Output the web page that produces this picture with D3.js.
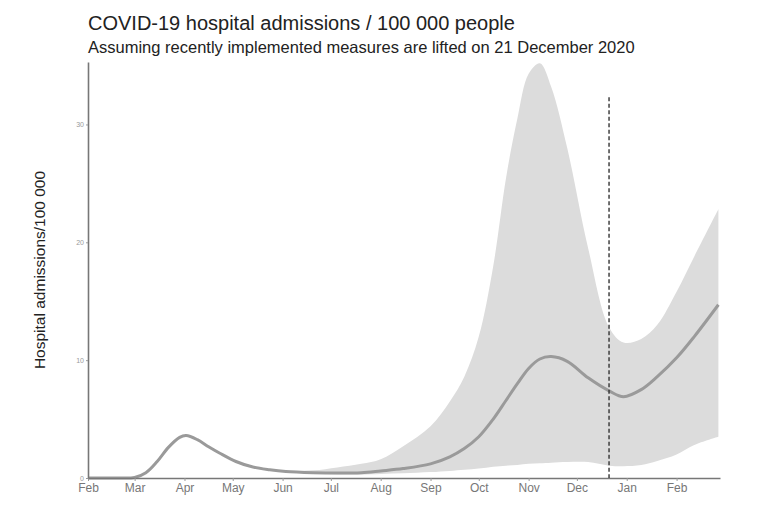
<!DOCTYPE html>
<html>
<head>
<meta charset="utf-8">
<script src="https://cdn.jsdelivr.net/npm/d3@7"></script>
<style>
  body { margin: 0; background: #fff; }
  text { font-family: "Liberation Sans", Arial, sans-serif; }
</style>
</head>
<body>
<div id="chart-area"></div>
<script>
// data
var dates = ['2020-02-01', '2020-02-20', '2020-03-01', '2020-03-08', '2020-03-15', '2020-03-22',
  '2020-03-29', '2020-04-02', '2020-04-09', '2020-04-16', '2020-04-23', '2020-05-03', '2020-05-13',
  '2020-05-24', '2020-06-03', '2020-06-20', '2020-07-05', '2020-07-20', '2020-08-01', '2020-08-15',
  '2020-09-01', '2020-09-13', '2020-09-22', '2020-10-01', '2020-10-10', '2020-10-18', '2020-10-25',
  '2020-11-01', '2020-11-08', '2020-11-15', '2020-11-25', '2020-12-08', '2020-12-21', '2020-12-30',
  '2021-01-10', '2021-01-20', '2021-02-01', '2021-02-12', '2021-02-27'];
var median = [0, 0, 0.05, 0.45, 1.4, 2.6, 3.45, 3.6, 3.25, 2.65, 2.1, 1.4, 0.95, 0.7, 0.55, 0.45, 0.42,
  0.45, 0.6, 0.8, 1.2, 1.8, 2.5, 3.5, 5.0, 6.6, 8.0, 9.3, 10.1, 10.3, 9.9, 8.5, 7.4, 6.9, 7.5, 8.6,
  10.2, 12.0, 14.7];
var lower = [0, 0, 0.05, 0.45, 1.4, 2.6, 3.45, 3.6, 3.25, 2.65, 2.1, 1.4, 0.95, 0.7, 0.5, 0.38, 0.3,
  0.3, 0.35, 0.4, 0.5, 0.6, 0.7, 0.8, 0.95, 1.05, 1.1, 1.2, 1.25, 1.3, 1.35, 1.35, 1.05, 1.0, 1.1,
  1.45, 2.0, 2.8, 3.5];
var upper = [0, 0, 0.05, 0.45, 1.4, 2.6, 3.45, 3.6, 3.25, 2.65, 2.1, 1.4, 0.95, 0.7, 0.6, 0.65, 0.9,
  1.2, 1.6, 2.7, 4.4, 6.5, 8.6, 12.0, 18.0, 25.5, 30.5, 34.3, 35.2, 33.2, 28.0, 19.5, 12.8, 11.5,
  11.8, 13.0, 15.8, 18.8, 22.8];
var yTicks = [0, 10, 20, 30];
var liftDate = '2020-12-21';

var title = 'COVID-19 hospital admissions / 100 000 people';
var subtitle = 'Assuming recently implemented measures are lifted on 21 December 2020';
var yLabel = 'Hospital admissions/100 000';

var parse = d3.timeParse('%Y-%m-%d');
var data = dates.map(function (d, i) {
  return {date: parse(d), med: median[i], lo: lower[i], hi: upper[i]};
});

var W = 772, H = 511;
var margin = {left: 88, right: 52, top: 62, bottom: 33};
var width = W - margin.left - margin.right;
var height = H - margin.top - margin.bottom;

var svg = d3.select('#chart-area')
  .append('svg')
  .attr('width', W)
  .attr('height', H);

var g = svg.append('g')
  .attr('transform', 'translate(' + margin.left + ', ' + margin.top + ')');

var x = d3.scaleTime()
  .domain([parse('2020-02-01'), parse('2021-02-28')])
  .range([0, width]);

var y = d3.scaleLinear()
  .domain([0, 35.3])
  .range([height, 0]);

var smooth = d3.curveCatmullRom.alpha(0.5);

// band
var area = d3.area()
  .curve(smooth)
  .x(function (d) { return x(d.date); })
  .y0(function (d) { return y(d.lo); })
  .y1(function (d) { return y(d.hi); });

g.append('path')
  .datum(data)
  .attr('d', area)
  .attr('fill', '#dcdcdc');

// median
var line = d3.line()
  .curve(smooth)
  .x(function (d) { return x(d.date); })
  .y(function (d) { return y(d.med); });

g.append('path')
  .datum(data)
  .attr('d', line)
  .attr('fill', 'none')
  .attr('stroke', '#9a9a9a')
  .attr('stroke-width', 3);

// axes
var xAxisCall = d3.axisBottom(x)
  .ticks(d3.timeMonth.every(1))
  .tickFormat(d3.timeFormat('%b'))
  .tickSize(3)
  .tickSizeOuter(0);
var xAxis = g.append('g')
  .attr('class', 'x-axis')
  .attr('transform', 'translate(0, ' + height + ')')
  .call(xAxisCall);
xAxis.select('.domain').attr('stroke', '#777').attr('stroke-width', 1.6);
xAxis.selectAll('line').attr('stroke', '#999');
xAxis.selectAll('text')
  .attr('fill', '#777')
  .attr('font-size', '12px')
  .attr('y', 5);

var yAxisCall = d3.axisLeft(y)
  .tickValues(yTicks)
  .tickSize(2)
  .tickSizeOuter(0);
var yAxis = g.append('g')
  .attr('class', 'y-axis')
  .call(yAxisCall);
yAxis.select('.domain').attr('stroke', '#777').attr('stroke-width', 1.6);
yAxis.selectAll('line').attr('stroke', '#999');
yAxis.selectAll('text')
  .attr('fill', '#999')
  .attr('font-size', '7px')
  .attr('x', -4);

// dashed line for lifting date
g.append('line')
  .attr('x1', x(parse(liftDate)))
  .attr('x2', x(parse(liftDate)))
  .attr('y1', y(32.3))
  .attr('y2', height)
  .attr('stroke', '#333')
  .attr('stroke-width', 1.4)
  .attr('stroke-dasharray', '4,2.5');

// Y label
g.append('text')
  .attr('x', -(height / 2))
  .attr('y', -43)
  .attr('font-size', '15.5px')
  .attr('fill', '#222')
  .attr('text-anchor', 'middle')
  .attr('transform', 'rotate(-90)')
  .text(yLabel);

// titles
svg.append('text')
  .attr('x', margin.left)
  .attr('y', 30)
  .attr('font-size', '20px')
  .attr('fill', '#222')
  .text(title);

svg.append('text')
  .attr('x', margin.left)
  .attr('y', 53)
  .attr('font-size', '16.5px')
  .attr('fill', '#222')
  .text(subtitle);
</script>
</body>
</html>
